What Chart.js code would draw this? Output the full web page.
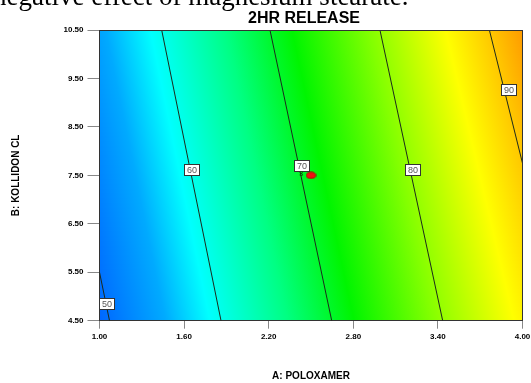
<!DOCTYPE html>
<html><head><meta charset="utf-8">
<script src="https://cdn.jsdelivr.net/npm/chart.js@4.4.1/dist/chart.umd.min.js"></script>
<style>html,body{margin:0;padding:0;background:#fff;overflow:hidden}#wrap{width:531px;height:383px;position:relative}</style>
</head><body><div id="wrap"><canvas id="c" width="531" height="383"></canvas></div>
<script>
// ---- data ----
const headerText = 'negative effect of magnesium stearate.';
const chartTitle = '2HR RELEASE';
const xAxisTitle = 'A: POLOXAMER';
const yAxisTitle = 'B: KOLLIDON CL';
const xTicks = [1.00, 1.60, 2.20, 2.80, 3.40, 4.00];
const xTickLabels = ['1.00', '1.60', '2.20', '2.80', '3.40', '4.00'];
const yTicks = [4.50, 5.50, 6.50, 7.50, 8.50, 9.50, 10.50];
const yTickLabels = ['4.50', '5.50', '6.50', '7.50', '8.50', '9.50', '10.50'];
const contourLevels = [50, 60, 70, 80, 90];
const contour50 = [{x: 1.000, y: 5.50}, {x: 1.071, y: 4.50}];
const contour60 = [{x: 1.441, y: 10.50}, {x: 1.862, y: 4.50}];
const contour70 = [{x: 2.209, y: 10.50}, {x: 2.647, y: 4.50}];
const contour80 = [{x: 2.989, y: 10.50}, {x: 3.434, y: 4.50}];
const contour90 = [{x: 3.765, y: 10.50}, {x: 4.000, y: 7.75}];
const contourLabelA = [1.051, 1.654, 2.434, 3.226, 3.904];
const contourLabelB = [4.84, 7.62, 7.70, 7.62, 9.26];
const designPointA = [2.50];
const designPointB = [7.50];
const designCountText = ['3'];
const designCountA = [2.43];
const designCountB = [7.52];
const colorStopValues = [48, 55, 59, 66, 72, 79, 86, 90, 94];
const colorStopRGB = [[0,90,255],[0,170,255],[0,255,255],[0,255,130],[0,245,0],[130,255,0],[255,255,0],[255,200,0],[255,140,0]];

const contours = [contour50, contour60, contour70, contour80, contour90];

// ---- helpers ----
function interpA(pts, B) {
  const p = pts[0], q = pts[1];
  return p.x + (B - p.y) * (q.x - p.x) / (q.y - p.y);
}
function piecewise(xs, ys, v) {
  const n = xs.length;
  let j = 0;
  while (j < n - 2 && v > xs[j + 1]) j++;
  const t = (v - xs[j]) / (xs[j + 1] - xs[j]);
  return ys[j] + t * (ys[j + 1] - ys[j]);
}
function colorAt(v) {
  const n = colorStopValues.length;
  if (v <= colorStopValues[0]) return 'rgb(' + colorStopRGB[0].join(',') + ')';
  if (v >= colorStopValues[n - 1]) return 'rgb(' + colorStopRGB[n - 1].join(',') + ')';
  let j = 0;
  while (v > colorStopValues[j + 1]) j++;
  const t = (v - colorStopValues[j]) / (colorStopValues[j + 1] - colorStopValues[j]);
  const a = colorStopRGB[j], b = colorStopRGB[j + 1];
  return 'rgb(' + [0,1,2].map(i => Math.round(a[i] + t * (b[i] - a[i]))).join(',') + ')';
}

const bgPlugin = {
  id: 'surface',
  beforeDraw(chart) {
    const {ctx, chartArea: a, scales: {x, y}} = chart;
    ctx.save();
    const w = a.right - a.left;
    for (let py = a.top; py < a.bottom; py += 1) {
      const B = y.getValueForPixel(py + 0.5);
      const kp = contours.map(c => x.getPixelForValue(interpA(c, B)));
      const kv = contourLevels;
      const positions = [a.left, a.right];
      kp.forEach(p => { if (p > a.left && p < a.right) positions.push(p); });
      colorStopValues.forEach(v => {
        const p = piecewise(kv, kp, v);
        if (p > a.left && p < a.right) positions.push(p);
      });
      positions.sort((m, n) => m - n);
      const g = ctx.createLinearGradient(a.left, 0, a.right, 0);
      positions.forEach(p => g.addColorStop(Math.min(1, Math.max(0, (p - a.left) / w)), colorAt(piecewise(kp, kv, p))));
      ctx.fillStyle = g;
      ctx.fillRect(a.left, py, w, Math.min(1, a.bottom - py));
    }
    ctx.restore();
  },
  afterDatasetsDraw(chart) {
    const {ctx, chartArea: a, scales: {x, y}} = chart;
    ctx.save();
    ctx.strokeStyle = '#333';
    ctx.lineWidth = 1;
    ctx.beginPath();
    ctx.moveTo(a.left, Math.round(a.top) + 0.5);
    ctx.lineTo(a.right, Math.round(a.top) + 0.5);
    ctx.moveTo(Math.round(a.right) - 0.5, a.top);
    ctx.lineTo(Math.round(a.right) - 0.5, a.bottom);
    ctx.stroke();
    ctx.font = '9px "Liberation Sans", Arial, sans-serif';
    ctx.textAlign = 'center';
    ctx.textBaseline = 'middle';
    contourLevels.forEach((lv, i) => {
      const cx = Math.round(x.getPixelForValue(contourLabelA[i]));
      const cy = Math.round(y.getPixelForValue(contourLabelB[i]));
      const bw = 15, bh = 11;
      ctx.fillStyle = '#fff';
      ctx.fillRect(cx - bw / 2, cy - bh / 2, bw, bh);
      ctx.strokeStyle = '#333';
      ctx.strokeRect(cx - bw / 2, cy - bh / 2, bw, bh);
      ctx.fillStyle = '#555';
      ctx.fillText(String(lv), cx, cy + 0.5);
    });
    ctx.font = 'bold 7px "Liberation Sans", Arial, sans-serif';
    ctx.fillStyle = '#0a5a0a';
    designCountText.forEach((t, i) => {
      ctx.fillText(t, x.getPixelForValue(designCountA[i]), y.getPixelForValue(designCountB[i]));
    });
    ctx.restore();
  },
  afterDraw(chart) {
    const {ctx} = chart;
    ctx.save();
    ctx.fillStyle = '#000';
    ctx.font = '27px "Liberation Serif", "Times New Roman", serif';
    ctx.textAlign = 'left';
    ctx.textBaseline = 'alphabetic';
    ctx.fillText(headerText, -7, 5);
    ctx.font = 'bold 16px "Liberation Sans", Arial, sans-serif';
    ctx.textAlign = 'center';
    ctx.textBaseline = 'middle';
    ctx.fillText(chartTitle, 304, 19);
    ctx.restore();
  }
};

const marker = document.createElement('canvas');
marker.width = 11; marker.height = 8;
(function () {
  const m = marker.getContext('2d');
  m.beginPath();
  m.ellipse(5.5, 4, 4.7, 3.2, 0, 0, Math.PI * 2);
  m.fillStyle = '#f01010';
  m.fill();
  m.strokeStyle = '#a00000';
  m.lineWidth = 0.8;
  m.stroke();
})();

const lineDatasets = contours.map((c, i) => ({
  label: String(contourLevels[i]),
  data: c,
  showLine: true,
  borderColor: '#1c2a1c',
  borderWidth: 1,
  pointRadius: 0,
  fill: false,
  tension: 0
}));
lineDatasets.push({
  label: 'design',
  data: designPointA.map((a, i) => ({x: a, y: designPointB[i]})),
  showLine: false,
  pointStyle: marker,
  pointRadius: 5
});

Chart.defaults.font.family = '"Liberation Sans", Arial, sans-serif';
Chart.defaults.color = '#000';

const tickFont = {size: 8, weight: 'bold'};
const titleFont = {size: 10, weight: 'bold'};

new Chart(document.getElementById('c'), {
  type: 'scatter',
  data: {datasets: lineDatasets},
  plugins: [bgPlugin],
  options: {
    responsive: false,
    animation: false,
    devicePixelRatio: 1,
    layout: {padding: {top: 30, right: 8.5, left: 0, bottom: 0}},
    plugins: {legend: {display: false}, title: {display: false}, tooltip: {enabled: false}},
    scales: {
      x: {
        type: 'linear', min: 1, max: 4,
        afterBuildTicks: s => { s.ticks = xTicks.map(v => ({value: v})); },
        afterFit: s => { s.height = 62.3; s.paddingLeft = 0; s.paddingRight = 0; },
        ticks: {callback: (v, i) => xTickLabels[i], font: tickFont, color: '#000', maxRotation: 0, autoSkip: false, padding: 3},
        grid: {drawOnChartArea: false, drawTicks: true, tickLength: 8, color: '#888'},
        border: {display: true, color: '#333'},
        title: {display: true, text: xAxisTitle, font: titleFont, color: '#000', padding: {top: 0, bottom: 1}}
      },
      y: {
        type: 'linear', min: 4.5, max: 10.5,
        afterBuildTicks: s => { s.ticks = yTicks.map(v => ({value: v})); },
        afterFit: s => { s.width = 99.5; s.paddingTop = 0; s.paddingBottom = 0; },
        ticks: {callback: (v, i) => yTickLabels[i], font: tickFont, color: '#000', autoSkip: false, padding: 4},
        grid: {drawOnChartArea: false, drawTicks: true, tickLength: 12, color: '#888'},
        border: {display: true, color: '#333'},
        title: {display: true, text: yAxisTitle, font: titleFont, color: '#000', padding: {top: 10, bottom: 0}}
      }
    }
  }
});
</script>
</body></html>
